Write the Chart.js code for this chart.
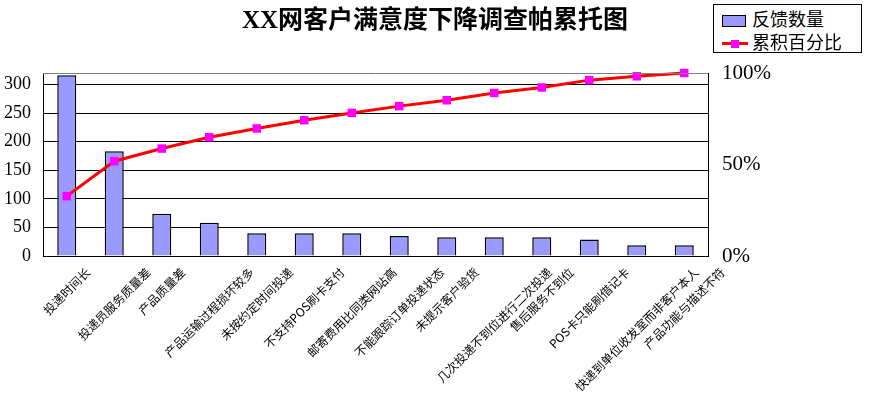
<!DOCTYPE html>
<html>
<head>
<meta charset="utf-8">
<script src="https://cdn.jsdelivr.net/npm/chart.js@4.4.1/dist/chart.umd.min.js"></script>
<style>
  body { margin: 0; background: #fff; }
  #wrap { position: relative; width: 870px; height: 398px; }
  #legend {
    position: absolute; left: 713px; top: 4px; width: 147px; height: 47px;
    border: 1px solid #000; background: #fff;
    font: 18px "Noto Sans CJK SC", sans-serif; color: #000;
  }
  .row { position: absolute; left: 8px; height: 22px; line-height: 22px; }
  .swatch { display: inline-block; vertical-align: middle; }
</style>
</head>
<body>
<div id="wrap">
  <canvas id="chart-pareto" width="870" height="398"></canvas>
  <div id="legend">
    <div class="row" style="top:2px">
      <span class="swatch" style="width:22px;height:10px;background:#9999FF;border:1px solid #000;margin-right:6px"></span>反馈数量
    </div>
    <div class="row" style="top:25px">
      <span class="swatch" style="position:relative;width:26px;height:10px;margin-right:4px">
        <span style="position:absolute;left:0;top:3px;width:26px;height:3px;background:#FF0000"></span>
        <span style="position:absolute;left:9px;top:1px;width:8px;height:8px;background:#FF00FF"></span>
      </span>累积百分比
    </div>
  </div>
</div>
<script>
const categories = [
  '投递时间长', '投递员服务质量差', '产品质量差', '产品运输过程损坏较多',
  '未按约定时间投递', '不支持POS刷卡支付', '邮寄费用比同类网站高', '不能跟踪订单投递状态',
  '未提示客户验货', '几次投递不到位进行二次投递', '售后服务不到位', 'POS卡只能刷借记卡',
  '快递到单位收发室而非客户本人', '产品功能与描述不符'
];
const feedbackCounts = [316, 183, 74, 58, 40, 40, 40, 35, 33, 33, 33, 29, 19, 19];
const cumulativePct = [32.7, 51.8, 58.7, 64.9, 69.7, 74.2, 78.2, 81.9, 85.1, 89.1, 92.1, 96.1, 98.2, 100];
const countTicks = [0, 50, 100, 150, 200, 250, 300];
const pctTicks = [0, 50, 100];

Chart.defaults.color = '#000';

// rotated category labels, centred under each bar like the original
const xLabels = {
  id: 'xLabels',
  afterDraw(chart) {
    const ctx = chart.ctx;
    const x = chart.scales.x;
    ctx.save();
    ctx.font = '12px "Noto Sans CJK SC", sans-serif';
    ctx.fillStyle = '#000';
    ctx.textAlign = 'right';
    ctx.textBaseline = 'middle';
    categories.forEach((lab, i) => {
      const cx = x.getPixelForValue(i);
      const d = ctx.measureText(lab).width * Math.SQRT1_2;
      ctx.save();
      ctx.translate(cx + d / 2, chart.chartArea.bottom + 14);
      ctx.rotate(-Math.PI / 4);
      ctx.fillText(lab, 0, 0);
      ctx.restore();
    });
    // top edge of plot area
    const a = chart.chartArea;
    ctx.strokeStyle = '#808080';
    ctx.lineWidth = 1;
    ctx.beginPath();
    ctx.moveTo(a.left, a.top + 0.5);
    ctx.lineTo(a.right, a.top + 0.5);
    ctx.stroke();
    ctx.restore();
  }
};

new Chart(document.getElementById('chart-pareto').getContext('2d'), {
  data: {
    labels: categories,
    datasets: [{
      type: 'line',
      label: '累积百分比',
      data: cumulativePct,
      yAxisID: 'y1',
      borderColor: '#FF0000',
      borderWidth: 3,
      tension: 0,
      pointStyle: 'rect',
      pointRadius: 6,
      pointBackgroundColor: '#FF00FF',
      pointBorderWidth: 0,
      clip: false,
      order: 0
    }, {
      type: 'bar',
      label: '反馈数量',
      data: feedbackCounts,
      yAxisID: 'y',
      backgroundColor: '#9999FF',
      borderColor: '#000',
      borderWidth: 1.5,
      barPercentage: 0.4,
      categoryPercentage: 1,
      order: 1
    }]
  },
  options: {
    responsive: false,
    animation: false,
    layout: { padding: { left: 0, right: 0, bottom: 134 } },
    plugins: {
      legend: { display: false },
      tooltip: { enabled: false },
      title: {
        display: true,
        text: 'XX网客户满意度下降调查帕累托图',
        font: { family: '"Liberation Serif", "Noto Sans CJK SC", serif', size: 25, weight: 'bold' },
        color: '#000',
        padding: { top: 7, bottom: 36 }
      }
    },
    scales: {
      x: {
        ticks: { display: false },
        grid: { display: false },
        border: { display: true, color: '#000' }
      },
      y: {
        position: 'left',
        min: 0,
        max: 320,
        afterBuildTicks: s => { s.ticks = countTicks.map(v => ({ value: v })); },
        afterFit: s => { s.width = 43; },
        ticks: { font: { family: '"Liberation Serif", serif', size: 18 }, padding: 12, color: '#000' },
        grid: { color: '#000', drawTicks: false },
        border: { display: true, color: '#000' }
      },
      y1: {
        position: 'right',
        min: 0,
        max: 100,
        afterBuildTicks: s => { s.ticks = pctTicks.map(v => ({ value: v })); },
        afterFit: s => { s.width = 162; },
        ticks: {
          font: { family: '"Liberation Serif", serif', size: 21 },
          padding: 6,
          color: '#000',
          callback: v => v + '%'
        },
        grid: { display: false },
        border: { display: true, color: '#000' }
      }
    }
  },
  plugins: [xLabels]
});
</script>
</body>
</html>
